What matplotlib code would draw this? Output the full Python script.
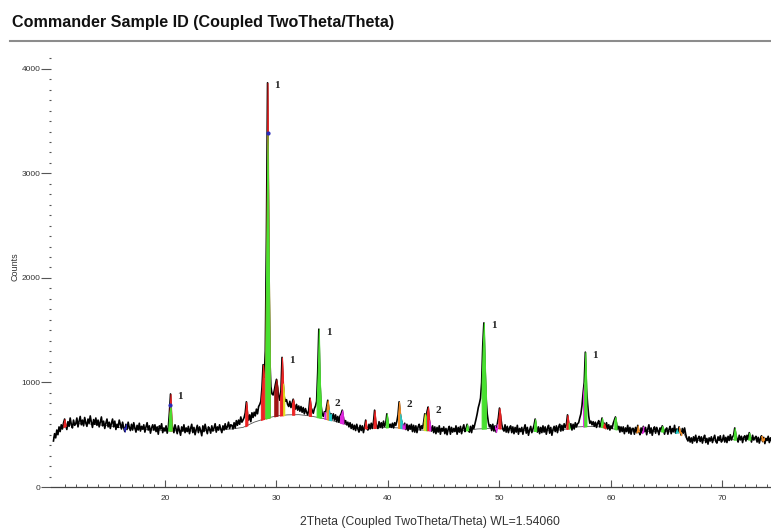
import numpy as np
import matplotlib.pyplot as plt
from matplotlib.lines import Line2D
from matplotlib.ticker import FixedLocator

plt.rcParams['font.family'] = ['Liberation Sans', 'DejaVu Sans']

# scan: 10.0 .. 74.4 deg 2theta, 0.1 deg step
start_2theta = 10.0
step_2theta = 0.1
counts = [
    440, 510, 470, 545, 500, 575, 530, 595, 555, 610,   # 10
    650, 590, 550, 625, 580, 660, 600, 565, 640, 590,   # 11
    605, 660, 575, 630, 675, 595, 640, 585, 665, 615,   # 12
    580, 650, 610, 680, 620, 570, 645, 600, 660, 590,   # 13
    640, 575, 620, 670, 585, 630, 560, 610, 650, 575,   # 14
    620, 560, 610, 650, 575, 630, 550, 600, 570, 640,   # 15
    600, 555, 620, 565, 530, 600, 550, 620, 570, 540,   # 16
    600, 545, 615, 565, 525, 590, 545, 610, 535, 580,   # 17
    555, 595, 525, 575, 615, 545, 585, 515, 565, 595,   # 18
    545, 595, 530, 575, 505, 585, 555, 605, 520, 565,   # 19
    535, 585, 515, 565, 710, 890, 620, 565, 520, 595,   # 20
    555, 510, 585, 540, 495, 575, 535, 595, 520, 565,   # 21
    530, 580, 510, 560, 600, 520, 570, 500, 550, 590,   # 22
    520, 575, 540, 490, 585, 530, 600, 550, 510, 575,   # 23
    555, 515, 585, 535, 565, 605, 525, 575, 545, 595,   # 24
    555, 520, 585, 545, 605, 555, 575, 620, 560, 595,   # 25
    590, 555, 615, 565, 635, 590, 640, 600, 670, 620,   # 26
    640, 665, 710, 815, 700, 640, 690, 625, 710, 665,   # 27
    715, 680, 745, 700, 770, 790, 820, 950, 1170, 1050,  # 28
    1300, 2400, 3866, 2300, 1250, 960, 890, 880, 920, 980,  # 29
    1030, 950, 870, 830, 920, 1240, 990, 860, 820, 835,  # 30
    790, 770, 820, 760, 800, 840, 785, 745, 790, 735,   # 31
    775, 725, 770, 715, 760, 700, 750, 715, 690, 740,   # 32
    850, 760, 735, 705, 750, 775, 820, 1100, 1510, 1000,  # 33
    780, 700, 675, 720, 710, 770, 830, 740, 680, 700,   # 34
    650, 700, 640, 690, 625, 675, 620, 680, 700, 735,   # 35
    665, 610, 635, 595, 620, 575, 615, 560, 600, 550,   # 36
    590, 540, 600, 555, 525, 590, 540, 585, 520, 575,   # 37
    640, 560, 545, 600, 555, 610, 560, 620, 735, 620,   # 38
    580, 560, 625, 570, 615, 565, 630, 580, 610, 700,   # 39
    620, 575, 600, 570, 610, 565, 615, 590, 630, 690,   # 40
    815, 700, 640, 600, 565, 610, 550, 600, 540, 590,   # 41
    555, 600, 530, 590, 525, 585, 520, 575, 600, 545,   # 42
    585, 560, 620, 700, 660, 720, 765, 640, 580, 535,   # 43
    585, 520, 575, 510, 570, 525, 585, 505, 560, 535,   # 44
    575, 510, 560, 500, 555, 580, 505, 570, 525, 560,   # 45
    530, 585, 505, 570, 525, 580, 510, 560, 595, 530,   # 46
    560, 600, 545, 525, 580, 520, 590, 560, 605, 650,   # 47
    700, 760, 800, 850, 1000, 1350, 1570, 1150, 850, 700,  # 48
    620, 575, 595, 540, 600, 535, 585, 525, 600, 660,   # 49
    755, 680, 600, 555, 535, 595, 525, 580, 520, 565,   # 50
    585, 520, 575, 510, 570, 525, 590, 505, 560, 530,   # 51
    570, 505, 560, 595, 515, 570, 495, 545, 580, 520,   # 52
    555, 590, 650, 580, 525, 575, 510, 570, 520, 585,   # 53
    525, 575, 505, 560, 590, 515, 570, 495, 550, 580,   # 54
    530, 585, 520, 575, 600, 535, 590, 540, 605, 570,   # 55
    595, 690, 615, 560, 605, 545, 600, 555, 615, 575,   # 56
    605, 615, 660, 700, 780, 900, 1000, 1290, 950, 800,  # 57
    680, 610, 630, 595, 625, 580, 620, 570, 610, 635,   # 58
    575, 610, 660, 585, 610, 560, 615, 555, 595, 545,   # 59
    585, 560, 610, 640, 670, 605, 555, 580, 525, 575,   # 60
    530, 575, 510, 565, 530, 590, 515, 570, 505, 560,   # 61
    560, 505, 570, 520, 590, 530, 500, 565, 515, 580,   # 62
    530, 570, 500, 555, 595, 515, 565, 495, 550, 575,   # 63
    515, 570, 540, 500, 565, 545, 585, 555, 505, 550,   # 64
    565, 505, 550, 580, 510, 560, 530, 590, 515, 555,   # 65
    520, 575, 535, 495, 560, 515, 565, 505, 465, 440,   # 66
    480, 430, 470, 420, 480, 440, 495, 425, 465, 485,   # 67
    435, 480, 420, 470, 495, 425, 465, 410, 470, 440,   # 68
    480, 425, 465, 495, 435, 420, 480, 445, 490, 430,   # 69
    450, 495, 430, 475, 425, 485, 445, 500, 450, 480,   # 70
    495, 565, 500, 460, 430, 495, 450, 485, 425, 475,   # 71
    490, 440, 495, 455, 520, 475, 430, 495, 450, 470,   # 72
    485, 430, 475, 420, 465, 490, 435, 475, 415, 465,   # 73
    445, 485, 425, 470, 440,                            # 74
]

# fitted background (knots)
bg_2theta = [10.0, 10.5, 11.0, 12.0, 13.0, 14.0, 15.0, 16.0, 17.0, 18.0, 19.0, 20.0,
             22.0, 24.0, 25.0, 26.0, 27.0, 28.0, 29.0, 30.0, 31.0, 32.0, 33.0, 34.0,
             35.0, 36.0, 37.0, 38.0, 39.0, 40.0, 41.0, 42.0, 44.0, 46.0, 47.0, 48.0,
             49.0, 50.0, 51.0, 53.0, 55.0, 56.0, 57.0, 58.0, 59.0, 60.0, 61.0, 63.0,
             65.0, 66.5, 66.8, 68.0, 70.0, 72.0, 74.4]
bg_counts = [470, 540, 580, 605, 605, 595, 585, 570, 560, 550, 545, 540,
             535, 540, 548, 555, 570, 620, 655, 680, 690, 692, 680, 660,
             635, 605, 575, 560, 565, 570, 565, 550, 540, 535, 540, 555,
             560, 560, 545, 535, 540, 555, 575, 580, 575, 560, 540, 530,
             530, 520, 455, 445, 450, 455, 445]

# identified peak areas: (from, to, colour, upper limit or None)
peak_marks = [
    (10.9, 11.1, 'red', None),
    (16.3, 16.5, 'blue', None),
    (20.4, 20.6, 'red', None),
    (20.3, 20.6, 'green', 780),
    (27.2, 27.4, 'red', None),
    (28.6, 28.9, 'red', None),
    (29.0, 29.4, 'red', None),
    (29.0, 29.4, 'green', 3390),
    (29.8, 30.1, 'darkred', None),
    (30.3, 30.6, 'red', None),
    (30.6, 30.7, 'yellow', None),
    (31.4, 31.6, 'red', None),
    (32.9, 33.1, 'red', None),
    (33.6, 34.0, 'green', None),
    (34.3, 34.4, 'magenta', None),
    (34.5, 34.7, 'orange', None),
    (34.7, 34.9, 'cyan', None),
    (35.7, 36.0, 'magenta', None),
    (37.9, 38.1, 'red', None),
    (38.7, 38.9, 'red', None),
    (39.8, 40.0, 'green', None),
    (40.9, 41.1, 'orange', None),
    (41.1, 41.3, 'cyan', None),
    (41.3, 41.5, 'magenta', None),
    (43.2, 43.4, 'yellow', None),
    (43.4, 43.5, 'green', None),
    (43.5, 43.7, 'red', None),
    (43.7, 43.8, 'magenta', None),
    (47.0, 47.2, 'green', None),
    (48.4, 48.8, 'green', None),
    (49.6, 49.8, 'magenta', None),
    (49.9, 50.1, 'red', None),
    (53.1, 53.3, 'green', None),
    (56.0, 56.2, 'red', None),
    (56.2, 56.3, 'green', None),
    (57.5, 57.6, 'magenta', None),
    (57.6, 57.8, 'green', None),
    (59.1, 59.3, 'green', None),
    (59.3, 59.5, 'red', None),
    (60.3, 60.5, 'green', None),
    (62.3, 62.5, 'orange', None),
    (62.8, 62.9, 'magenta', None),
    (64.5, 64.7, 'green', None),
    (65.8, 66.0, 'cyan', None),
    (66.1, 66.3, 'orange', None),
    (71.0, 71.2, 'green', None),
    (72.3, 72.5, 'green', None),
    (73.5, 73.7, 'orange', None),
]

peak_labels = [(20.5, '1'), (29.2, '1'), (30.5, '1'), (33.8, '1'), (34.6, '2'),
               (41.0, '2'), (43.6, '2'), (48.6, '1'), (57.7, '1')]

colours = {'red': '#ee2424', 'green': '#48e030', 'blue': '#2a2ab8',
           'darkred': '#a01414', 'yellow': '#e2e020', 'magenta': '#e028e0',
           'orange': '#ee8a24', 'cyan': '#20cccc'}

two_theta = np.round(start_2theta + step_2theta * np.arange(len(counts)), 2)
counts = np.array(counts, dtype=float)
background = np.interp(two_theta, bg_2theta, bg_counts)

W, H = 771, 529
fig = plt.figure(figsize=(W / 100, H / 100), dpi=100)
ax = fig.add_axes([51 / W, 42 / H, 720 / W, 437 / H])

ax.plot(bg_2theta, bg_counts, color='#555555', lw=0.6, zorder=1)
ax.plot(two_theta, counts, color='black', lw=1.2, zorder=2)

for lo, hi, name, cap in peak_marks:
    sel = (two_theta >= lo - 1e-6) & (two_theta <= hi + 1e-6)
    top = counts if cap is None else np.minimum(counts, cap)
    c = colours[name]
    ax.fill_between(two_theta, background, top, where=sel, color=c,
                    edgecolor=c, lw=0.7, zorder=3)
    if cap is not None and name == 'green':
        ax.plot((lo + hi) / 2, cap, 'o', color=colours['blue'], ms=2, zorder=4)

for pos, txt in peak_labels:
    i = int(np.argmin(np.abs(two_theta - pos)))
    ax.annotate(txt, (two_theta[i], counts[i]), xytext=(7, -3),
                textcoords='offset pixels', ha='left', va='center',
                fontsize=8, fontweight='bold', family='Liberation Serif',
                color='#222222')

ax.set_xlim(9.78, 74.35)
ax.set_ylim(0, 4180)

for s in ['top', 'right', 'left']:
    ax.spines[s].set_visible(False)
ax.spines['bottom'].set_color('#444444')
ax.spines['bottom'].set_linewidth(0.9)

ax.xaxis.set_major_locator(FixedLocator(np.arange(20, 80, 10)))
ax.xaxis.set_minor_locator(FixedLocator(np.arange(11, 75)))
ax.yaxis.set_major_locator(FixedLocator(np.arange(0, 4001, 1000)))
ax.yaxis.set_minor_locator(FixedLocator(np.arange(0, 4101, 100)))

ax.tick_params(axis='x', which='major', direction='in', length=5, width=0.8,
               color='#555555', labelsize=6, labelcolor='#333333', pad=6)
ax.tick_params(axis='x', which='minor', direction='in', length=2.5, width=0.7,
               color='#555555')
ax.tick_params(axis='y', which='major', direction='out', length=7, width=0.8,
               color='#555555', labelsize=6, labelcolor='#333333', pad=0.5)
ax.tick_params(axis='y', which='minor', direction='out', length=1.5, width=0.8,
               color='#555555')

fig.text(12 / W, 1 - 22 / H, 'Commander Sample ID (Coupled TwoTheta/Theta)',
         fontsize=11.6, fontweight='bold', ha='left', va='center', color='#111111')
fig.add_artist(Line2D([10 / W, 1], [1 - 40.5 / H] * 2, color='#8c8c8c', lw=1.5))

fig.text(15 / W, 1 - 267 / H, 'Counts', rotation=90, fontsize=6.5,
         ha='center', va='center', color='#333333')
fig.text(430 / W, 1 - 522 / H, '2Theta (Coupled TwoTheta/Theta) WL=1.54060',
         fontsize=8.8, ha='center', va='center', color='#333333')

fig.savefig('out.png', dpi=100)
